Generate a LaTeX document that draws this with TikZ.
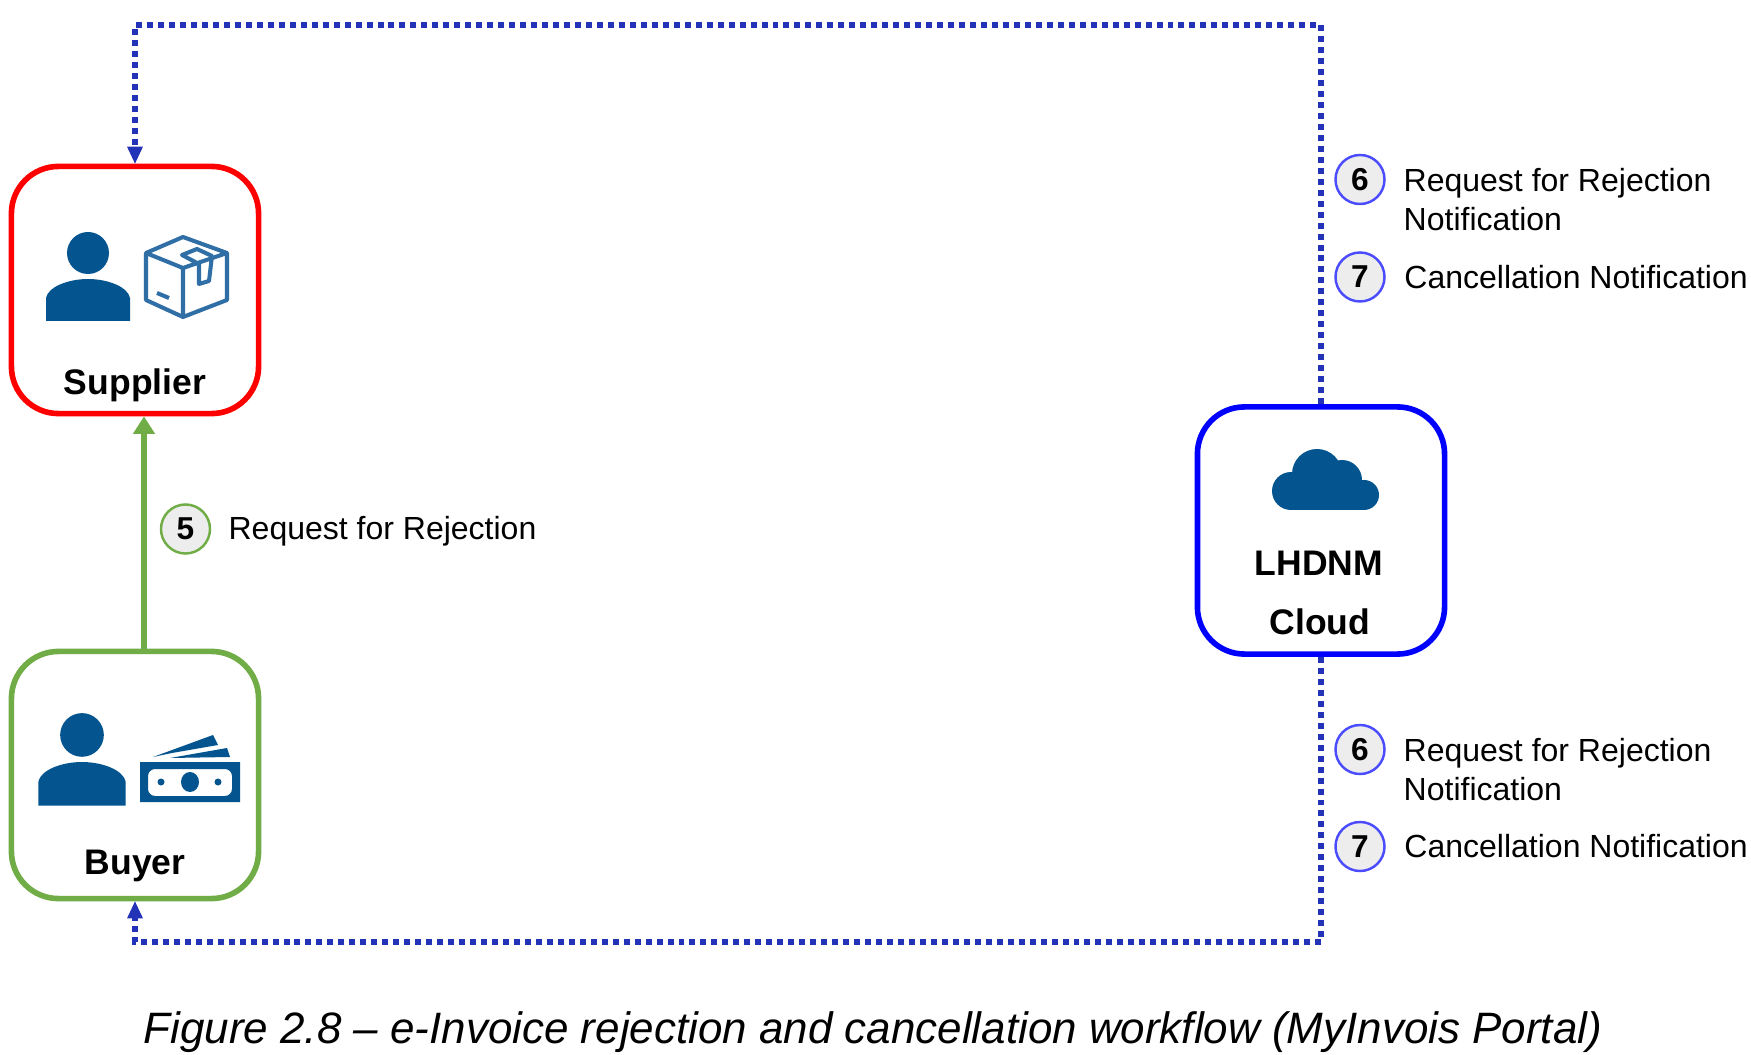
\documentclass[tikz,border=0pt]{standalone}
\usepackage{fontspec}
\setmainfont{Liberation Sans}
\usetikzlibrary{arrows.meta,positioning}

\definecolor{iconBlue}{HTML}{04558F}
\definecolor{boxIcon}{HTML}{2F6FA6}
\definecolor{dotBlue}{HTML}{2233B8}
\definecolor{buyerGreen}{HTML}{70AD47}
\definecolor{badgeGrey}{HTML}{EDEDED}

\begin{document}
\begin{tikzpicture}[
    x=0.01cm, y=-0.01cm,
    party/.style={rectangle, draw, line width=1.6pt, fill=white, minimum width=2.47cm, minimum height=2.47cm, rounded corners=0.47cm},
    partyname/.style={font=\fontsize{10.1}{12}\selectfont\bfseries, inner sep=0pt},
    badge/.style={circle, draw=blue!70!white, line width=0.7pt, fill=badgeGrey, minimum size=0.49cm, inner sep=0pt, font=\fontsize{9}{11}\selectfont\bfseries},
    tag/.style={inner sep=0pt, align=left, font=\fontsize{9.1}{11.1}\selectfont},
    notify/.style={draw=dotBlue, line width=1.6pt, dash pattern=on 1.7pt off 1.42pt},
    person/.pic={
        \fill[iconBlue] (0,-26) circle (21);
        \fill[iconBlue] (-42,42) -- (-42,19) .. controls (-40,8) and (-20,0) .. (0,0) .. controls (20,0) and (40,8) .. (42,19) -- (42,42) -- cycle;
    }
]
\useasboundingbox (0,0) rectangle (1751,1055);

% Parties
\node[party, draw=red] (supplier) at (135,290) {};
\node[party, draw=buyerGreen] (buyer) at (135,775) {};
\node[party, draw=blue] (cloud) at (1321,530.5) {};

\node[partyname] (supplierName) at (135,385) {Supplier};
\node[partyname] (buyerName) at (135,866) {Buyer};
\node[partyname] (cloudName) at (1319,563) {LHDNM};
\node[partyname] (cloudSub) at (1320,622) {Cloud};

% Supplier icons
\pic at (88,279) {person};
\draw[boxIcon, line width=1.15pt, line join=round]
    (183,237) -- (227,253) -- (227,300) -- (183,317) -- (146,300) -- (146,253) -- cycle
    (146,253) -- (183,268) -- (227,253)
    (183,268) -- (183,317)
    (182,255) -- (197,249) -- (212,256) -- (209,281) -- (199,284) -- (199,264) -- cycle
    (157,293) -- (169,298);

% Buyer icons
\pic[scale=1.04] at (82,762) {person};
\fill[iconBlue, even odd rule] (140,762) rectangle (240,802)
    [rounded corners=2pt] (148,769) rectangle (232,796);
\fill[iconBlue] (190,782) ellipse (9 and 10);
\fill[iconBlue] (161,782) circle (3.5);
\fill[iconBlue] (218,782) circle (3.5);
\fill[iconBlue] (153,757) -- (213,735) -- (218,745) -- (172,753) -- cycle;
\fill[iconBlue] (170,758) -- (227,748) -- (230,757) -- cycle;

% Cloud icon
\fill[iconBlue] (1317,474) circle (25);
\fill[iconBlue] (1342,480) circle (20);
\fill[iconBlue] (1291,491) circle (19);
\fill[iconBlue] (1364,495) circle (15);
\fill[iconBlue] (1291,485) rectangle (1364,510);

% Connectors
\coordinate (topTurn) at (1321,25);
\coordinate (bottomTurn) at (1321,942);
\draw[notify] (cloud.north) -- (topTurn) -| ([yshift=0.1cm]supplier.north);
\draw[notify] (cloud.south) -- (bottomTurn) -| ([yshift=-0.1cm]buyer.south);
\fill[dotBlue] (supplier.north) -- ++(-8,-17) -- ++(16,0) -- cycle;
\fill[dotBlue] (buyer.south) -- ++(-8,17) -- ++(16,0) -- cycle;
\draw[buyerGreen, line width=1.5pt, -{Triangle[length=5pt,width=6pt]}] ([xshift=0.09cm]buyer.north) -- ([xshift=0.09cm]supplier.south);

% Step 5
\node[badge, draw=buyerGreen] (stepFive) at (185.5,529) {5};
\node[tag] (stepFiveText) at (382.5,531) {Request for Rejection};

% Steps above the cloud
\node[badge] (stepSixTop) at (1360,179.5) {6};
\node[badge] (stepSevenTop) at (1360,277) {7};
\node[tag, anchor=west] (stepSixTopText) at (1403,199.5) {Request for Rejection\\Notification};
\node[tag, right=0.18cm of stepSevenTop] (stepSevenTopText) {Cancellation Notification};

% Steps below the cloud
\node[badge] (stepSixLow) at (1360,749.5) {6};
\node[badge] (stepSevenLow) at (1360,846.5) {7};
\node[tag, anchor=west] (stepSixLowText) at (1403,769.5) {Request for Rejection\\Notification};
\node[tag, right=0.18cm of stepSevenLow] (stepSevenLowText) {Cancellation Notification};

% Caption
\node[inner sep=0pt, font=\fontsize{12.5}{15}\selectfont\itshape] (caption) at (873,1032) {Figure 2.8 – e-Invoice rejection and cancellation workflow (MyInvois Portal)};

\end{tikzpicture}
\end{document}
